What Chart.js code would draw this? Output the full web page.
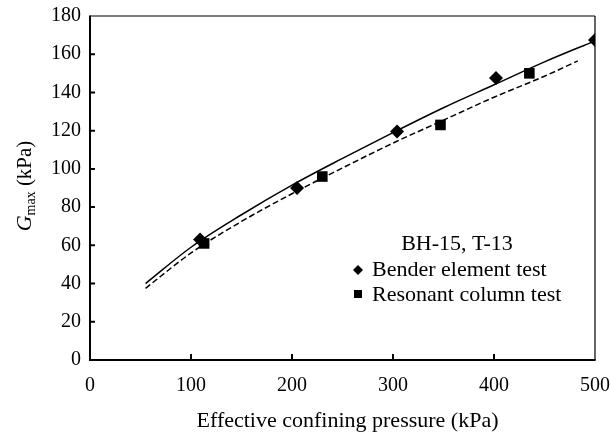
<!DOCTYPE html>
<html>
<head>
<meta charset="utf-8">
<script src="https://cdn.jsdelivr.net/npm/chart.js@4"></script>
<style>
  html, body { margin: 0; padding: 0; background: #fff; }
  #wrap { width: 610px; height: 435px; }
</style>
</head>
<body>
<div id="wrap"><canvas id="gmax"></canvas></div>
<script>
// measured points
const benderP = [109, 205, 304, 402, 500];
const benderG = [63, 90, 119.5, 147.5, 167.5];
const resonantP = [113, 230, 347, 435];
const resonantG = [61, 96, 123, 150];

// fitted curves
const benderFitP = [55, 100, 150, 200, 250, 300, 350, 400, 450, 500];
const benderFitG = [40, 59, 76, 91.5, 105.5, 119, 132, 144, 156, 167];
const resonantFitP = [55, 100, 150, 200, 250, 300, 350, 400, 450, 483];
const resonantFitG = [37.5, 56, 72.5, 87, 100.5, 113.5, 125.5, 137.5, 148.5, 156.5];

const xTicks = [0, 100, 200, 300, 400, 500];
const yTicks = [0, 20, 40, 60, 80, 100, 120, 140, 160, 180];

const legendTitle = 'BH-15, T-13';
const legendLabels = ['Bender element test', 'Resonant column test'];
const xTitle = 'Effective confining pressure (kPa)';

const serif = '"Liberation Serif", "DejaVu Serif", serif';

const toPts = (xs, ys) => xs.map((x, i) => ({ x: x, y: ys[i] }));

// frame, inward ticks, axis titles and the legend box text
const framePlugin = {
  id: 'frame',
  afterDraw(chart) {
    const ctx = chart.ctx;
    const a = chart.chartArea;
    const xs = chart.scales.x, ys = chart.scales.y;
    ctx.save();
    ctx.strokeStyle = '#000';
    ctx.lineCap = 'butt';

    // thin top / right
    ctx.lineWidth = 1.2;
    ctx.beginPath();
    ctx.moveTo(a.left, a.top); ctx.lineTo(a.right, a.top);
    ctx.moveTo(a.right, a.top); ctx.lineTo(a.right, a.bottom);
    ctx.stroke();

    // heavier left / bottom
    ctx.lineWidth = 2;
    ctx.beginPath();
    ctx.moveTo(a.left, a.top - 0.6); ctx.lineTo(a.left, a.bottom + 1);
    ctx.moveTo(a.left - 1, a.bottom); ctx.lineTo(a.right + 0.6, a.bottom);
    ctx.stroke();

    ctx.lineWidth = 2;
    ctx.beginPath();
    yTicks.slice(1, -1).forEach(v => {
      const y = ys.getPixelForValue(v);
      ctx.moveTo(a.left, y); ctx.lineTo(a.left + 5, y);
    });
    xTicks.slice(1, -1).forEach(v => {
      const x = xs.getPixelForValue(v);
      ctx.moveTo(x, a.bottom); ctx.lineTo(x, a.bottom - 6);
    });
    ctx.stroke();

    ctx.fillStyle = '#000';

    // x title
    ctx.font = '22px ' + serif;
    ctx.textAlign = 'center';
    ctx.textBaseline = 'middle';
    ctx.fillText(xTitle, (a.left + a.right) / 2 + 5, 421);

    // y title: G_max (kPa), rotated
    ctx.save();
    ctx.translate(31, 186);
    ctx.rotate(-Math.PI / 2);
    ctx.textBaseline = 'alphabetic';
    ctx.textAlign = 'left';
    const gFont = 'italic 22px ' + serif;
    const subFont = '14px ' + serif;
    const unitFont = '21px ' + serif;
    ctx.font = gFont; const wG = ctx.measureText('G').width;
    ctx.font = subFont; const wS = ctx.measureText('max').width;
    ctx.font = unitFont; const wU = ctx.measureText(' (kPa)').width;
    let x0 = -(wG + wS + wU) / 2;
    ctx.font = gFont; ctx.fillText('G', x0, 0); x0 += wG;
    ctx.font = subFont; ctx.fillText('max', x0, 4); x0 += wS;
    ctx.font = unitFont; ctx.fillText(' (kPa)', x0, 0);
    ctx.restore();

    // legend
    ctx.font = '22px ' + serif;
    ctx.textAlign = 'center';
    ctx.textBaseline = 'middle';
    ctx.fillText(legendTitle, 457, 244);
    ctx.textAlign = 'left';
    ctx.fillText(legendLabels[0], 372, 270);
    ctx.fillText(legendLabels[1], 372, 295);
    // markers
    ctx.beginPath();
    ctx.moveTo(358, 265); ctx.lineTo(363, 270); ctx.lineTo(358, 275); ctx.lineTo(353, 270);
    ctx.closePath();
    ctx.fill();
    ctx.fillRect(354, 290, 8, 8);
    ctx.restore();
  }
};

new Chart(document.getElementById('gmax').getContext('2d'), {
  type: 'scatter',
  data: {
    datasets: [
      {
        label: legendLabels[0],
        data: toPts(benderP, benderG),
        pointStyle: 'rectRot',
        pointRadius: 7,
        backgroundColor: '#000',
        borderColor: '#000',
        borderWidth: 0,
        showLine: false
      },
      {
        label: legendLabels[1],
        data: toPts(resonantP, resonantG),
        pointStyle: 'rect',
        pointRadius: 7.5,
        backgroundColor: '#000',
        borderColor: '#000',
        borderWidth: 0,
        showLine: false
      },
      {
        label: 'Bender fit',
        data: toPts(benderFitP, benderFitG),
        showLine: true,
        pointRadius: 0,
        borderColor: '#000',
        borderWidth: 1.5,
        cubicInterpolationMode: 'monotone'
      },
      {
        label: 'Resonant fit',
        data: toPts(resonantFitP, resonantFitG),
        showLine: true,
        pointRadius: 0,
        borderColor: '#000',
        borderWidth: 1.5,
        borderDash: [6, 3],
        cubicInterpolationMode: 'monotone'
      }
    ]
  },
  options: {
    responsive: true,
    maintainAspectRatio: false,
    animation: false,
    layout: { padding: { left: 0, right: 15, top: 16, bottom: 0 } },
    plugins: {
      legend: { display: false },
      tooltip: { enabled: false }
    },
    scales: {
      x: {
        type: 'linear',
        min: 0,
        max: 500,
        grid: { display: false, drawTicks: false },
        border: { display: false },
        afterBuildTicks: (s) => { s.ticks = xTicks.map(v => ({ value: v })); },
        ticks: {
          color: '#000',
          font: { family: serif, size: 20 },
          padding: 14,
          maxRotation: 0
        },
        afterFit: (s) => { s.height = 75; s.paddingLeft = 0; s.paddingRight = 0; }
      },
      y: {
        type: 'linear',
        min: 0,
        max: 180,
        grid: { display: false, drawTicks: false },
        border: { display: false },
        afterBuildTicks: (s) => { s.ticks = yTicks.map(v => ({ value: v })); },
        ticks: {
          color: '#000',
          font: { family: serif, size: 20 },
          padding: 9
        },
        afterFit: (s) => { s.width = 90; s.paddingTop = 0; s.paddingBottom = 0; }
      }
    }
  },
  plugins: [framePlugin]
});
</script>
</body>
</html>
